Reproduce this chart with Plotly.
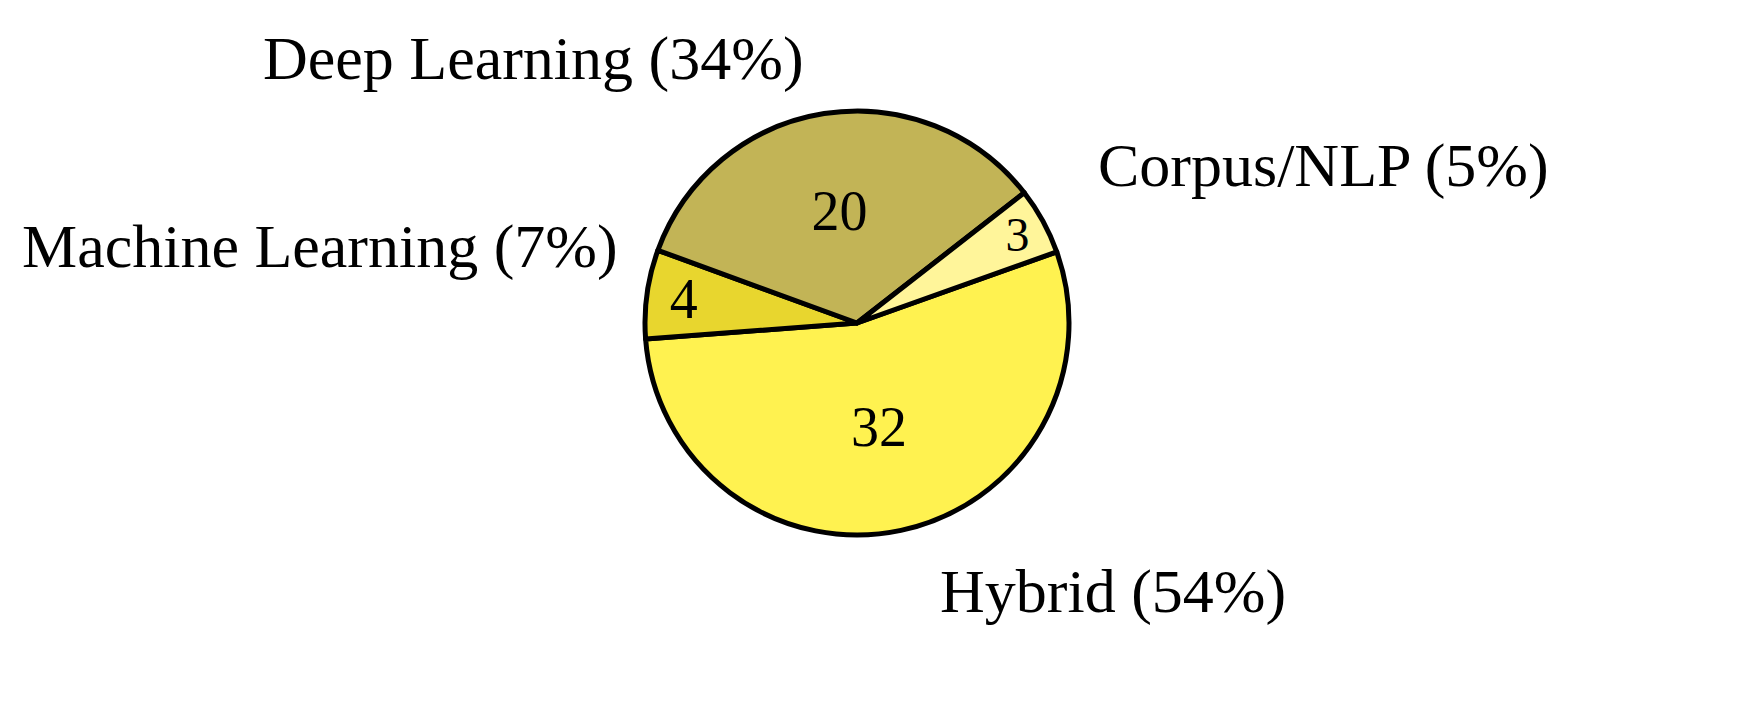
import plotly.graph_objects as go

labels = ["Hybrid", "Machine Learning", "Deep Learning", "Corpus/NLP"]
values = [32, 4, 20, 3]
colors = ["#FFF250", "#E8D62E", "#C2B456", "#FFF59A"]
outer_text = ["Hybrid (54%)", "Machine Learning (7%)", "Deep Learning (34%)", "Corpus/NLP (5%)"]
outer_pos = [(1105, 583), (312, 238), (525, 50), (1315, 158)]

W, H = 1756, 704
cx, cy, r = 849, 315, 212
fig = go.Figure(go.Pie(
    labels=labels, values=values, sort=False, direction="clockwise", rotation=70.4,
    marker=dict(colors=colors, line=dict(color="black", width=5)),
    textinfo="value", textposition="inside", insidetextorientation="horizontal",
    textfont=dict(family="Liberation Serif", size=56, color="black"),
    domain=dict(x=[(cx-r)/W, (cx+r)/W], y=[(H-cy-r)/H, (H-cy+r)/H]),
    showlegend=False, hoverinfo="label+value+percent",
))
for t, (x, y) in zip(outer_text, outer_pos):
    fig.add_annotation(text=t, x=x/W, y=1-y/H, xref="paper", yref="paper",
                       xanchor="center", yanchor="middle", showarrow=False,
                       font=dict(family="Liberation Serif", size=62, color="black"))
fig.update_layout(width=W, height=H, margin=dict(l=0, r=0, t=0, b=0),
                  paper_bgcolor="white", plot_bgcolor="white")
fig.write_html("out.html")
